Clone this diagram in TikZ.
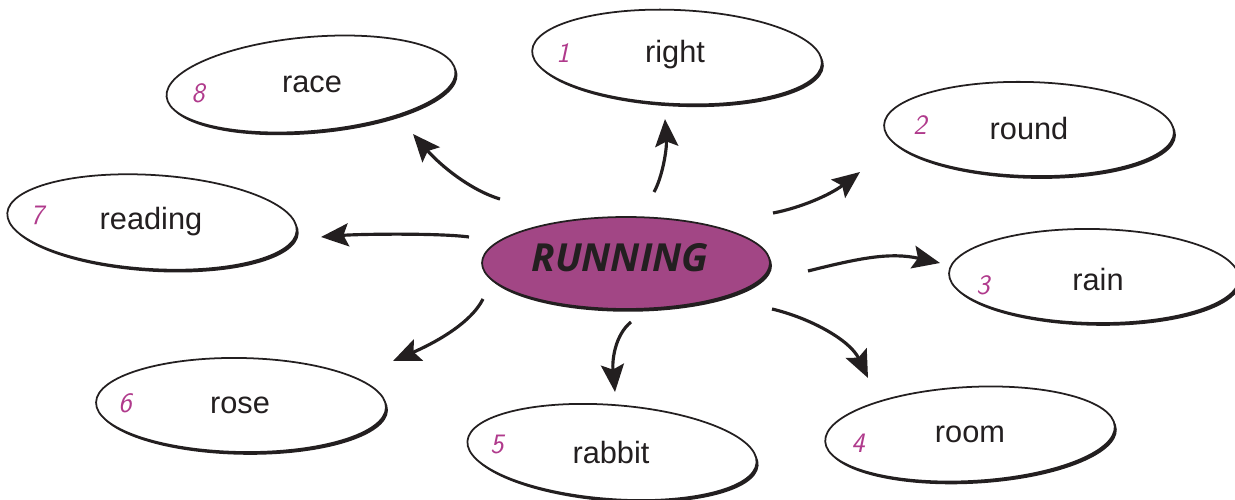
\documentclass[tikz,border=0pt]{standalone}
\usepackage{fontspec}
\setmainfont{Liberation Sans}
\newfontfamily\handfont{Open Sans}
\usetikzlibrary{shapes.geometric,shadows,arrows.meta}
\definecolor{plum}{RGB}{162,70,133}
\definecolor{numpink}{RGB}{176,58,140}
\definecolor{ink}{RGB}{35,31,32}

\begin{document}
\begin{tikzpicture}[x=0.02cm,y=-0.02cm,
	bubble/.style={draw=ink,ellipse,fill=white,line width=1pt,inner sep=0,outer sep=0,minimum width=5.8cm,minimum height=1.88cm,drop shadow={shadow xshift=0.04cm,shadow yshift=-0.055cm,fill=ink,opacity=1}},
	word/.style={anchor=base,font=\fontsize{17.5}{20}\selectfont,text=ink,inner sep=0},
	num/.style={font=\sffamily\itshape\fontsize{16}{18}\selectfont,text=numpink,inner sep=0},
	arr/.style={line width=1.8pt,draw=ink,-{Stealth[length=5.5mm,width=4.6mm,inset=1mm]}}]
	\useasboundingbox (0,0) rectangle (1235,500);
	% centre
	\node[bubble,fill=plum,minimum width=5.76cm,minimum height=1.84cm] (run) at (626,263) {};
	\node[font=\handfont\bfseries\itshape\fontsize{22}{24}\selectfont,text=ink,inner sep=0] (runtext) at (620,258) {RUNNING};
	% words
	\node[bubble,rotate=-2.5] (right) at (677,57) {};
	\node[word] (righttext) at (675,63) {right};
	\node[num] (n1) at (563,53) {1};
	\node[bubble,rotate=-1.5] (round) at (1029,129) {};
	\node[word] (roundtext) at (1029,140) {round};
	\node[num] (n2) at (920,125) {2};
	\node[bubble,rotate=-1] (rain) at (1094,276) {};
	\node[word] (raintext) at (1098,290) {rain};
	\node[num] (n3) at (983,285) {3};
	\node[bubble,rotate=3] (room) at (970,434) {};
	\node[word] (roomtext) at (970,442) {room};
	\node[num] (n4) at (858,443) {4};
	\node[bubble,rotate=-4.3] (rabbit) at (612,452) {};
	\node[word] (rabbittext) at (611,463) {rabbit};
	\node[num] (n5) at (497,445) {5};
	\node[bubble,rotate=-1] (rose) at (241,405) {};
	\node[word] (rosetext) at (240,413) {rose};
	\node[num] (n6) at (125,403) {6};
	\node[bubble,rotate=-3.5] (reading) at (152,222) {};
	\node[word] (readingtext) at (151,230) {reading};
	\node[num] (n7) at (37,215) {7};
	\node[bubble,rotate=5] (race) at (311,84) {};
	\node[word] (racetext) at (312,93) {race};
	\node[num] (n8) at (198,93) {8};
	% arrow ends
	\coordinate (from1) at (654,192); \coordinate (to1) at (665,119);
	\coordinate (from2) at (773,213); \coordinate (to2) at (860,172);
	\coordinate (from3) at (808,271); \coordinate (to3) at (940,263);
	\coordinate (from4) at (772,309); \coordinate (to4) at (868,378);
	\coordinate (from5) at (631,322); \coordinate (to5) at (615,392);
	\coordinate (from6) at (483,299); \coordinate (to6) at (393,361);
	\coordinate (from7) at (469,237); \coordinate (to7) at (321,237);
	\coordinate (from8) at (500,199); \coordinate (to8) at (413,134);
	% arrows
	\draw[arr] (from1) .. controls (662,178) and (667,150) .. (to1);
	\draw[arr] (from2) .. controls (800,208) and (830,195) .. (to2);
	\draw[arr] (from3) .. controls (860,258) and (890,252) .. (to3);
	\draw[arr] (from4) .. controls (810,318) and (850,340) .. (to4);
	\draw[arr] (from5) .. controls (615,335) and (612,360) .. (to5);
	\draw[arr] (from6) .. controls (470,325) and (430,345) .. (to6);
	\draw[arr] (from7) .. controls (440,233) and (360,234) .. (to7);
	\draw[arr] (from8) .. controls (470,190) and (440,165) .. (to8);
\end{tikzpicture}
\end{document}
